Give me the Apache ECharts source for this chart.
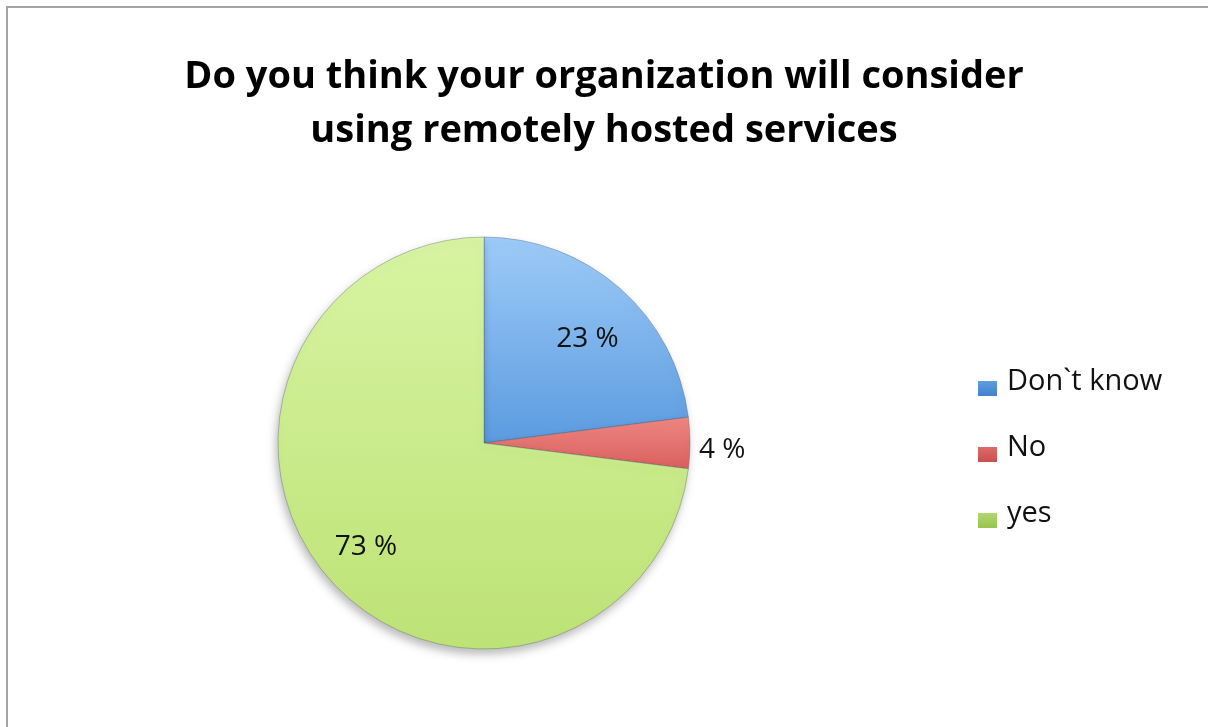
<!DOCTYPE html>
<html>
<head>
<meta charset="utf-8">
<script src="https://cdn.jsdelivr.net/npm/echarts@6/dist/echarts.min.js"></script>
<style>
  html, body { margin: 0; padding: 0; background: #fff; }
  #wrap { position: relative; width: 1208px; height: 727px; overflow: hidden; }
  #frame { position: absolute; left: 6px; top: 6px; width: 1400px; height: 900px;
           border-left: 2px solid #a3a3a3; border-top: 2px solid #a3a3a3; }
  #chart { position: absolute; left: 0; top: 0; width: 1208px; height: 727px; }
</style>
</head>
<body>
<div id="wrap">
  <div id="frame"></div>
  <div id="chart"></div>
</div>
<script>
// Survey answers and their shares (percent)
const titleText = 'Do you think your organization will consider\nusing remotely hosted services';
const categories = ['Don`t know', 'No', 'yes'];
const shares = [23, 4, 73];

// Slice fills: lighter at the top, deeper toward the bottom
const topColors = ['#9ecbf8', '#ef8783', '#d8f4a3'];
const bottomColors = ['#5b9bdf', '#d9605d', '#bde275'];
const legendTop = ['#7fb4ee', '#ea8582', '#c8ea8e'];
const legendBottom = ['#3f82cf', '#cc4f4c', '#96c44f'];

const FONT = '"Open Sans", Lato, sans-serif';

function grad(a, b) {
  return new echarts.graphic.LinearGradient(0, 0, 0, 1, [
    { offset: 0, color: a },
    { offset: 1, color: b }
  ]);
}

const pieData = categories.map((name, i) => ({
  name: name,
  value: shares[i],
  itemStyle: { color: grad(topColors[i], bottomColors[i]) }
}));

// Transparent ring that only carries the percentage labels
const labelData = categories.map((name, i) => ({
  name: name,
  value: shares[i],
  label: shares[i] < 10
    ? { position: 'outside', distance: 0 }
    : { position: 'inside' },
  labelLine: { show: false, length: 4, length2: 0 }
}));

// Legend swatch: a square in the lower half of its box, so it sits on the text baseline
const swatch = 'path://M0,0 h0.01 v0.01 h-0.01 z M0,14 h19 v15 h-19 z';

const chart = echarts.init(document.getElementById('chart'), null, { renderer: 'canvas' });
chart.setOption({
  animation: false,
  backgroundColor: 'transparent',
  title: {
    text: titleText,
    left: 'center',
    top: 45,
    textStyle: {
      fontFamily: FONT,
      fontWeight: 'bold',
      fontSize: 38,
      lineHeight: 54,
      color: '#000'
    }
  },
  legend: {
    orient: 'vertical',
    left: 978,
    top: 367,
    padding: 0,
    icon: swatch,
    itemWidth: 19,
    itemHeight: 29,
    itemGap: 37,
    selectedMode: false,
    data: categories.map((name, i) => ({
      name: name,
      itemStyle: {
        color: grad(legendTop[i], legendBottom[i]),
        borderWidth: 0,
        shadowBlur: 0,
        shadowOffsetX: 0,
        shadowOffsetY: 0
      }
    })),
    textStyle: {
      fontFamily: FONT,
      fontSize: 29,
      lineHeight: 28,
      color: '#111',
      padding: [0, 0, 0, 5]
    }
  },
  series: [
    {
      type: 'pie',
      center: [484, 443],
      radius: 206,
      startAngle: 90,
      clockwise: true,
      silent: true,
      label: { show: false },
      labelLine: { show: false },
      itemStyle: {
        borderColor: 'rgba(70,90,110,0.35)',
        borderWidth: 1,
        shadowBlur: 10,
        shadowOffsetX: -2,
        shadowOffsetY: 5,
        shadowColor: 'rgba(0,0,0,0.28)'
      },
      data: pieData
    },
    {
      type: 'pie',
      center: [484, 443],
      radius: [92, 206],
      startAngle: 90,
      clockwise: true,
      silent: true,
      itemStyle: { color: 'rgba(0,0,0,0)' },
      label: {
        show: true,
        formatter: p => p.value + ' %',
        fontFamily: FONT,
        fontSize: 28,
        color: '#111'
      },
      labelLayout: p => p.dataIndex === 0 ? { dx: 3, dy: 10 }
                      : p.dataIndex === 1 ? { dy: 7 }
                      : { dx: -4, dy: 4 },
      data: labelData
    }
  ]
});
</script>
</body>
</html>
